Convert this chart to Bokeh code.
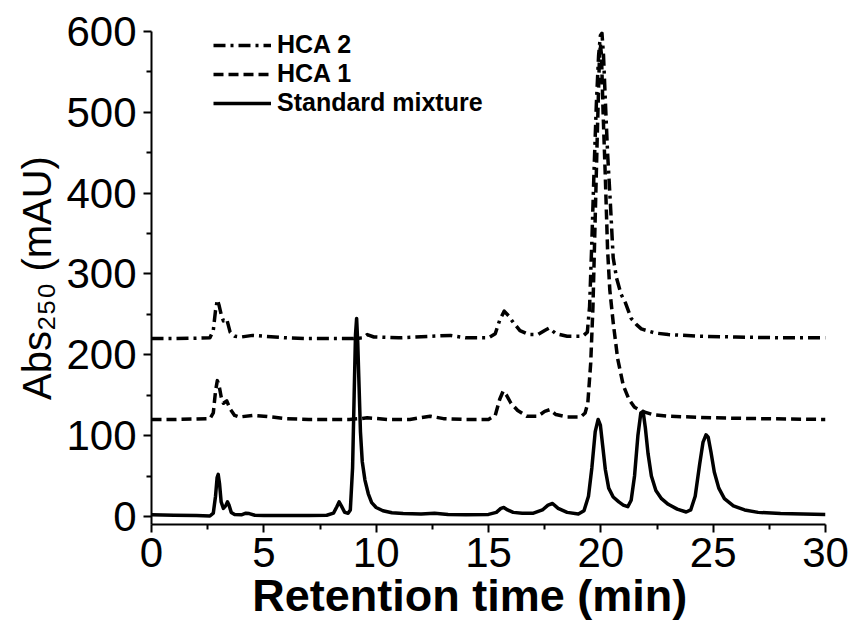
from bokeh.plotting import figure
from bokeh.models import Range1d, Legend, LegendItem, FixedTicker
from bokeh.embed import file_html
from bokeh.resources import INLINE

# ---------------- data ----------------
std_t = [0, 1, 2, 2.6, 2.75, 2.85, 2.92, 2.97, 3.03, 3.1, 3.2, 3.3, 3.38, 3.45, 3.55, 3.7,
         4.0, 4.2, 4.35, 4.6, 5, 6, 7, 7.8, 8.1, 8.25, 8.35, 8.45, 8.6, 8.75, 8.85, 8.95,
         9.02, 9.08, 9.13, 9.18, 9.24, 9.3, 9.38, 9.5, 9.65, 9.8, 10.0, 10.3, 10.7, 11.2,
         12, 12.6, 13.2, 14, 15, 15.35, 15.55, 15.68, 15.85, 16.1, 16.5, 17.0, 17.4, 17.65,
         17.85, 18.1, 18.5, 19.0, 19.25, 19.45, 19.6, 19.75, 19.88, 19.98, 20.08, 20.2,
         20.35, 20.55, 20.8, 21.0, 21.2, 21.35, 21.5, 21.65, 21.78, 21.88, 21.98, 22.1,
         22.25, 22.45, 22.7, 23.0, 23.4, 23.8, 24.0, 24.2, 24.4, 24.55, 24.68, 24.78, 24.9,
         25.05, 25.25, 25.5, 25.9, 26.4, 27, 28, 29, 30]
std_v = [2, 1.5, 1, 0.5, 4, 25, 48, 52, 40, 18, 10, 13, 18, 14, 5, 2.5,
         2, 4, 3.5, 1.5, 1, 1, 1, 1.5, 4, 12, 18, 13, 5, 4, 8, 60,
         150, 225, 245, 215, 160, 105, 68, 45, 28, 17, 11, 7, 4.5, 3.5,
         3, 4, 2.5, 2, 2.5, 5, 10, 11, 8, 5, 4, 4, 8, 14,
         16, 10, 5, 3, 7, 25, 60, 105, 120, 113, 88, 58,
         35, 24, 18, 14, 12, 20, 50, 100, 128, 130, 110, 78,
         50, 32, 22, 15, 9, 5.5, 8, 25, 65, 92, 101, 98, 80,
         55, 35, 22, 13, 8, 5, 3.5, 3, 2.5]

hca1_t = [0, 1, 2, 2.6, 2.75, 2.85, 2.93, 3.0, 3.1, 3.2, 3.35, 3.5, 3.7, 3.9, 4.5, 5.0,
          6, 7, 8, 8.8, 9.3, 9.6, 10.5, 11.5, 12.4, 13, 14, 15, 15.3, 15.5, 15.65, 15.8,
          16.0, 16.3, 16.7, 17.2, 17.5, 17.72, 18.0, 18.5, 19.1, 19.3, 19.42, 19.55, 19.65,
          19.75, 19.85, 19.93, 19.98, 20.03, 20.1, 20.2, 20.3, 20.4, 20.55, 20.75, 21.0,
          21.25, 21.5, 21.85, 22.3, 23, 24, 25, 27, 30]
hca1_v = [120, 120, 120.5, 121, 128, 155, 168, 163, 148, 140, 143, 133, 125, 123, 125, 124,
          121, 120, 120, 120, 121, 122, 120, 120, 124, 121, 120, 120, 125, 145, 155, 150,
          140, 131, 124, 124, 130, 132, 126, 123, 123, 128, 140, 190, 260,
          370, 480, 560, 585, 570, 500, 420, 330, 280, 240, 195, 162,
          145, 135, 130, 126, 124, 123, 122, 121, 120]

hca2_t = [0, 1, 2, 2.6, 2.75, 2.85, 2.93, 3.0, 3.1, 3.2, 3.35, 3.5, 3.7, 4, 4.5, 5, 6, 7,
          8, 9, 9.4, 9.6, 9.9, 11, 12.5, 13.3, 14, 15, 15.3, 15.5, 15.7, 15.9, 16.1, 16.4,
          16.8, 17.2, 17.5, 17.7, 18, 18.5, 19.2, 19.4, 19.5, 19.6, 19.7, 19.8, 19.9, 19.98,
          20.05, 20.12, 20.2, 20.3, 20.42, 20.55, 20.7, 20.9, 21.1, 21.35, 21.6, 21.8,
          22.4, 23, 24.4, 26, 28, 30]
hca2_v = [220, 220, 220.5, 221, 230, 255, 268, 262, 250, 242, 244, 228, 223, 222, 224, 223,
          221, 220, 220, 220, 221, 225, 222, 221, 223, 224, 221, 221, 226, 243, 254, 248,
          240, 230, 225, 225, 230, 233, 226, 223, 223, 228, 260, 340, 430, 510, 570, 595,
          598, 570, 515, 450, 390, 320, 295, 275, 264, 245, 237, 232,
          227, 225, 223, 222, 221, 221]

series_labels = ["HCA 2", "HCA 1", "Standard mixture"]
x_ticks = [0, 5, 10, 15, 20, 25, 30]
x_minor = [2.5, 7.5, 12.5, 17.5, 22.5, 27.5]
y_ticks = [0, 100, 200, 300, 400, 500, 600]
y_minor = [50, 150, 250, 350, 450, 550]

FONT = "Liberation Sans"

p = figure(width=849, height=623, output_backend="svg", toolbar_location=None,
           x_range=Range1d(0, 30), y_range=Range1d(-10, 600),
           min_border_left=151, min_border_right=24, min_border_top=31, min_border_bottom=97)
p.outline_line_color = None
p.background_fill_color = "white"
p.border_fill_color = "white"
p.xgrid.visible = False
p.ygrid.visible = False

r_std = p.line(std_t, std_v, line_color="black", line_width=3.5, line_join="round")
r_h1 = p.line(hca1_t, hca1_v, line_color="black", line_width=3.5, line_dash="10 5",
              line_join="round")
r_h2 = p.line(hca2_t, hca2_v, line_color="black", line_width=3.5, line_dash="12 5 3 5",
              line_join="round")

p.xaxis[0].ticker = FixedTicker(ticks=x_ticks, minor_ticks=x_minor)
p.yaxis[0].ticker = FixedTicker(ticks=y_ticks, minor_ticks=y_minor)

for ax in (p.xaxis[0], p.yaxis[0]):
    ax.axis_line_width = 2
    ax.axis_line_color = "black"
    ax.major_tick_line_width = 2
    ax.major_tick_line_color = "black"
    ax.major_tick_in = 0
    ax.major_tick_out = 8
    ax.minor_tick_line_width = 2
    ax.minor_tick_line_color = "black"
    ax.minor_tick_in = 0
    ax.minor_tick_out = 5
    ax.major_label_text_font = FONT
    ax.major_label_text_font_size = "42px"
    ax.major_label_text_color = "black"
    ax.axis_label_text_font = FONT
    ax.axis_label_text_color = "black"

p.xaxis[0].major_label_standoff = 5
p.yaxis[0].major_label_standoff = 7

p.xaxis[0].axis_label = "Retention time (min)\u00a0\u00a0\u00a0"
p.xaxis[0].axis_label_text_font_size = "45px"
p.xaxis[0].axis_label_text_font_style = "bold"
p.xaxis[0].axis_label_standoff = 0

p.yaxis[0].axis_label = "Abs\u2082\u2085\u2080 (mAU)"
p.yaxis[0].axis_label_text_font_size = "40px"
p.yaxis[0].axis_label_text_font_style = "normal"
p.yaxis[0].axis_label_standoff = 4

legend = Legend(items=[LegendItem(label=series_labels[0], renderers=[r_h2]),
                       LegendItem(label=series_labels[1], renderers=[r_h1]),
                       LegendItem(label=series_labels[2], renderers=[r_std])],
                location=(62, 407))
legend.glyph_width = 58
legend.glyph_height = 28
legend.label_height = 28
legend.label_standoff = 6
legend.spacing = 0
legend.padding = 0
legend.margin = 0
legend.border_line_color = None
legend.background_fill_alpha = 0
legend.label_text_font = FONT
legend.label_text_font_size = "25px"
legend.label_text_font_style = "bold"
legend.label_text_color = "black"
p.add_layout(legend)

open("out.html", "w").write(file_html(p, INLINE))
